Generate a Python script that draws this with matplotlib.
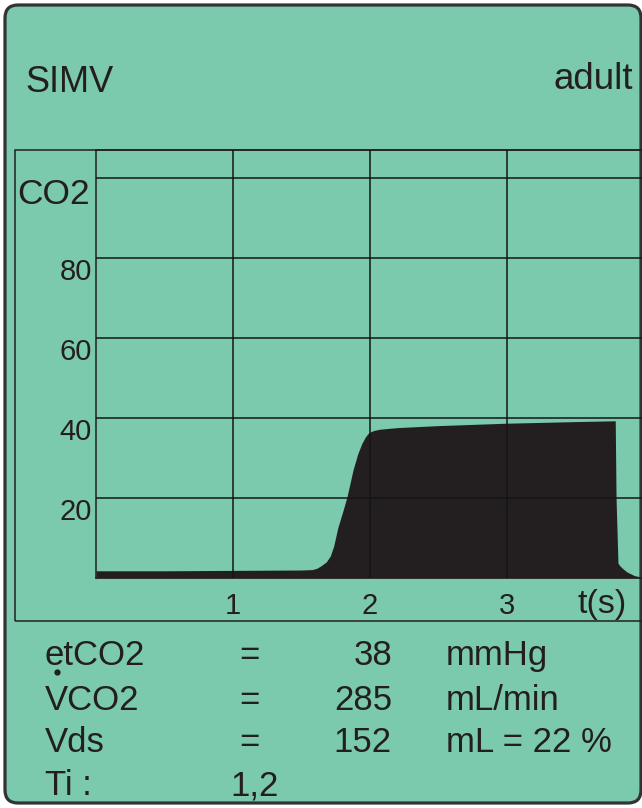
import matplotlib
matplotlib.use("Agg")
import matplotlib.pyplot as plt
from matplotlib.patches import FancyBboxPatch, Rectangle
from matplotlib.transforms import IdentityTransform

# capnogram: CO2 (mmHg) over time (s)
time_s = [0.0, 0.5, 1.0, 1.5, 1.577, 1.61, 1.64, 1.68, 1.71, 1.735, 1.766, 1.80,
          1.832, 1.876, 1.91, 1.94, 1.965, 1.985, 2.0, 2.03, 2.073, 2.2, 2.5, 3.0,
          3.5, 3.79, 3.796, 3.81, 3.825, 3.85, 3.876, 3.93, 3.985]
co2 = [1.8, 1.8, 1.9, 2.0, 2.1, 2.4, 3.0, 4.0, 5.5, 8.0, 12.7, 16.5,
       20.3, 27.0, 31.0, 33.6, 35.2, 36.1, 36.5, 36.9, 37.2, 37.6, 38.1, 38.7,
       39.1, 39.3, 20.0, 3.7, 3.0, 2.2, 1.5, 0.6, 0.2]

x_ticks = [1, 2, 3]
y_ticks = [20, 40, 60, 80, 100]
y_tick_labels = ["20", "40", "60", "80", ""]

mode_label = "SIMV"
patient_label = "adult"
readout_names = ["etCO2", "VCO2", "Vds"]
readout_values = ["38", "285", "152"]
readout_units = ["mmHg", "mL/min", "mL = 22 %"]
ti_value = "1,2"

BG = "#7BCAAE"
INK = "#231F20"
W, H = 642, 808

plt.rcParams["font.family"] = ["Liberation Sans", "DejaVu Sans"]

fig = plt.figure(figsize=(W / 100, H / 100), dpi=100, facecolor="white")


def fx(x):
    return x / W


def fy(y):
    return 1 - y / H


# outer rounded screen frame (pixel coordinates, origin bottom-left)
frame = FancyBboxPatch((5 + 13, H - 803 + 13), 641 - 5 - 26, 803 - 5 - 26,
                       boxstyle="round,pad=13,rounding_size=13",
                       transform=IdentityTransform(), facecolor=BG,
                       edgecolor="#333333", linewidth=2.3, zorder=-2)
fig.patches.append(frame)

# inner panel
panel = Rectangle((fx(15), fy(621)), fx(700), fy(150) - fy(621),
                  transform=fig.transFigure, fill=False, edgecolor=INK,
                  linewidth=1.1, zorder=-1)
fig.patches.append(panel)

ax = fig.add_axes([fx(96), fy(578), 1 - fx(96), fy(150) - fy(578)])
ax.set_zorder(2)
ax.patch.set_alpha(0)
ax.fill_between(time_s, co2, 0, color=INK, linewidth=0, zorder=1)
ax.set_xlim(0, 546 / 137)
ax.set_ylim(0, 107)

ax.set_xticks(x_ticks)
ax.set_xticklabels([str(t) for t in x_ticks])
ax.set_yticks(y_ticks)
ax.set_yticklabels(y_tick_labels)
for lbl in ax.get_yticklabels():
    lbl.set_verticalalignment("top")
ax.tick_params(axis="x", length=0, pad=10, labelsize=21, labelcolor=INK)
ax.tick_params(axis="y", length=0, pad=3, labelsize=21, labelcolor=INK)

ax.set_axisbelow(False)
ax.grid(True, color="#151515", linewidth=1.1)
for side in ["left", "top", "bottom"]:
    ax.spines[side].set_color(INK)
    ax.spines[side].set_linewidth(1.1)
ax.spines["right"].set_visible(False)

ax.text(-0.045, 100, "CO2", ha="right", va="top", fontsize=25.5, color=INK,
        transform=ax.transData)
fig.text(fx(602), fy(613), "t(s)", ha="center", va="baseline", fontsize=24.5,
         color=INK)

# header
fig.text(fx(25), fy(92), mode_label, ha="left", va="baseline", fontsize=26,
         color=INK)
fig.text(fx(633), fy(89), patient_label, ha="right", va="baseline",
         fontsize=26.5, color=INK)

# readouts
rows = [665, 710, 752]
for y, name, val, unit in zip(rows, readout_names, readout_values, readout_units):
    fig.text(fx(45), fy(y), name, ha="left", va="baseline", fontsize=25, color=INK)
    fig.text(fx(249), fy(y), "=", ha="center", va="baseline", fontsize=25, color=INK)
    fig.text(fx(392), fy(y), val, ha="right", va="baseline", fontsize=25, color=INK)
    fig.text(fx(446), fy(y), unit, ha="left", va="baseline", fontsize=25, color=INK)

# dot over the V of VCO2
fig.lines.append(plt.Line2D([fx(57)], [fy(672)], marker="o", markersize=3.5,
                            color=INK, transform=fig.transFigure))

fig.text(fx(45), fy(795), "Ti :", ha="left", va="baseline", fontsize=25, color=INK)
fig.text(fx(230), fy(795), ti_value, ha="left", va="baseline", fontsize=25, color=INK)

fig.savefig("out.png", dpi=100, facecolor="white")
